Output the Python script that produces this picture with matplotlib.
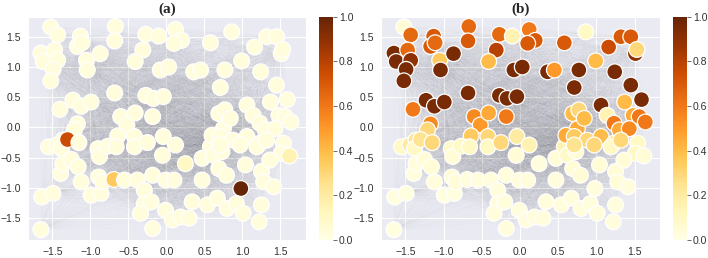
import numpy as np
import matplotlib
matplotlib.use('Agg')
import matplotlib.pyplot as plt
import seaborn as sns
from matplotlib.collections import LineCollection

sns.set_style('darkgrid')
plt.rcParams['font.family'] = ['Liberation Sans', 'DejaVu Sans']

# node positions (same layout in both panels)
xs = [-1.52, -1.43, -1.65, -1.47, -1.62, -1.43, -1.49, -1.52, -1.40, -1.55,
      -1.44, -1.36, -1.38, -1.39, -1.36, -1.64, -1.49, -1.65,
      -1.13, -1.17, -1.11, -1.05, -1.04, -0.87, -1.23, -1.12, -0.99, -1.17,
      -1.21, -1.30, -1.15, -1.25, -1.16, -1.12, -0.99, -0.86, -0.90, -0.88,
      -0.89, -0.84,
      -0.67, -0.68, -0.68, -0.60, -0.52, -0.41, -0.64, -0.77, -0.66, -0.69,
      -0.55, -0.42, -0.42, -0.38, -0.29, -0.29, -0.34,
      -0.31, -0.41, -0.27, -0.10, -0.08, 0.03, -0.27, -0.17, -0.04, -0.18,
      -0.25, -0.04, 0.12, -0.05, -0.18, -0.01, -0.01, -0.18, -0.20,
      0.12, 0.20, 0.10, 0.36, 0.45, 0.10, 0.08, 0.19, 0.30, 0.25,
      0.34, 0.47, 0.47, 0.54, 0.58, 0.62,
      0.58, 0.86, 0.77, 0.71, 0.69, 0.77, 0.75, 0.84, 0.60, 0.71,
      0.88, 0.73, 0.69, 0.79, 0.67, 0.80, 0.71,
      0.99, 1.06, 1.24, 1.16, 1.32, 1.06, 0.97, 1.04, 0.98, 0.92,
      1.01, 1.14, 1.23, 1.23, 1.30, 1.25, 1.28, 1.25, 1.22, 1.19,
      1.45, 1.51, 1.53, 1.45, 1.59, 1.37, 1.48, 1.56, 1.64, 1.43,
      1.32, 1.54, 1.51, 1.62, 1.36, 1.41]
ys = [1.66, 1.53, 1.23, 1.28, 1.09, 1.11, 0.96, 0.77, 0.30, -0.32,
      -0.29, -0.21, -0.35, -0.76, -0.60, -1.15, -1.09, -1.69,
      1.51, 1.34, 1.40, 1.11, 0.95, 1.22, 0.45, 0.35, 0.42, 0.06,
      -0.04, -0.20, -0.25, -0.53, -0.65, -0.90, -1.12, -1.09, -0.35, -0.48,
      -0.82, -0.90,
      1.67, 1.43, 0.57, 0.18, 0.04, 0.24, -0.14, -0.31, -0.32, -0.86,
      -0.87, -0.15, -0.32, -0.87, -1.04, -1.26, -1.42,
      1.28, 1.09, 1.54, 1.51, 0.95, 1.00, 0.53, 0.48, 0.51, 0.18,
      -0.25, -0.15, -0.29, -0.46, -0.79, -0.87, -1.37, -1.67, -1.23,
      1.62, 1.44, 1.39, 0.92, 0.95, -0.87, -1.53, -1.48, -1.50, -0.60,
      -1.23, -0.51, -0.87, -1.28, -0.32, -0.46,
      1.40, 1.58, 0.95, 0.66, 0.23, 0.29, -0.02, 0.15, -0.13, -0.15,
      -0.21, -0.40, -0.68, -0.79, -1.17, -1.34, -0.29,
      1.10, 0.37, 0.92, 1.33, 1.50, -0.15, -0.29, -0.62, -1.01, -1.26,
      -1.42, 0.20, 0.07, -0.26, -0.04, -0.73, -0.90, -1.28, -1.56, -0.32,
      1.50, 1.22, 1.29, 0.70, 0.46, 0.42, 0.20, 0.18, 0.09, -0.02,
      -0.21, -0.26, -0.43, -0.47, -0.54, -0.98]

# panel (b) node values
vals_b = [0.05, 0.65, 0.95, 0.65, 0.95, 0.90, 0.95, 0.95, 0.60, 0.10,
          0.20, 0.25, 0.10, 0.03, 0.03, 0.02, 0.02, 0.02,
          0.70, 0.70, 0.65, 0.35, 0.95, 0.95, 0.95, 0.95, 0.95, 0.55,
          0.30, 0.25, 0.30, 0.05, 0.05, 0.03, 0.02, 0.02, 0.08, 0.05,
          0.05, 0.05,
          0.65, 0.70, 0.95, 0.55, 0.50, 0.45, 0.35, 0.10, 0.10, 0.03,
          0.03, 0.30, 0.10, 0.03, 0.03, 0.03, 0.03,
          0.80, 0.40, 0.65, 0.15, 0.95, 0.95, 0.95, 0.95, 0.95, 0.60,
          0.30, 0.20, 0.15, 0.05, 0.03, 0.03, 0.03, 0.03, 0.03,
          0.60, 0.70, 0.70, 0.95, 0.50, 0.03, 0.03, 0.03, 0.03, 0.03,
          0.03, 0.05, 0.03, 0.03, 0.15, 0.10,
          0.70, 0.10, 0.95, 0.95, 0.40, 0.30, 0.45, 0.40, 0.45, 0.35,
          0.30, 0.05, 0.05, 0.05, 0.03, 0.03, 0.25,
          0.40, 0.95, 0.95, 0.75, 0.70, 0.40, 0.30, 0.05, 0.03, 0.03,
          0.03, 0.15, 0.60, 0.25, 0.45, 0.05, 0.05, 0.03, 0.03, 0.10,
          0.70, 0.90, 0.30, 0.95, 0.95, 0.40, 0.45, 0.60, 0.60, 0.55,
          0.30, 0.10, 0.10, 0.05, 0.05, 0.03]

# panel (a) node values: nearly all zero, a few marked nodes
vals_a = [0.03] * len(xs)
vals_a[29] = 0.75
vals_a[49] = 0.35
vals_a[85] = 0.10
vals_a[117] = 1.0
vals_a[142] = 0.15

fig = plt.figure(figsize=(7.08, 2.58), dpi=100)
ax_a = fig.add_axes([0.0395, 0.070, 0.392, 0.865])
cax_a = fig.add_axes([0.451, 0.070, 0.020, 0.865])
ax_b = fig.add_axes([0.538, 0.070, 0.394, 0.865])
cax_b = fig.add_axes([0.951, 0.070, 0.020, 0.865])

# faint edges between every pair of nodes
pts = np.column_stack([xs, ys])
n = len(pts)
segs = [[pts[i], pts[j]] for i in range(n) for j in range(i + 1, n)]

for ax, cax, vals, title in [(ax_a, cax_a, vals_a, '(a)'), (ax_b, cax_b, vals_b, '(b)')]:
    lc = LineCollection(segs, colors='#6e6e80', linewidths=0.3, alpha=0.013, zorder=1)
    ax.add_collection(lc)
    sc = ax.scatter(xs, ys, c=vals, cmap='YlOrBr', vmin=0, vmax=1, s=130,
                    edgecolors='white', linewidths=0.9, zorder=3)
    ax.set_xlim(-1.82, 1.83)
    ax.set_ylim(-1.86, 1.83)
    ax.set_xticks([-1.5, -1.0, -0.5, 0.0, 0.5, 1.0, 1.5])
    ax.set_yticks([-1.5, -1.0, -0.5, 0.0, 0.5, 1.0, 1.5])
    ax.tick_params(labelsize=7.5, pad=1.5, labelcolor='#333333')
    ax.set_title(title, fontsize=11, fontweight='bold', family='Liberation Serif', pad=3)
    cb = fig.colorbar(sc, cax=cax)
    cb.outline.set_visible(False)
    cb.set_ticks([0.0, 0.2, 0.4, 0.6, 0.8, 1.0])
    cax.tick_params(labelsize=7.5, length=3, width=0.6, color='#555555', pad=1,
                    labelcolor='#333333')

fig.savefig('out.png', dpi=100)
